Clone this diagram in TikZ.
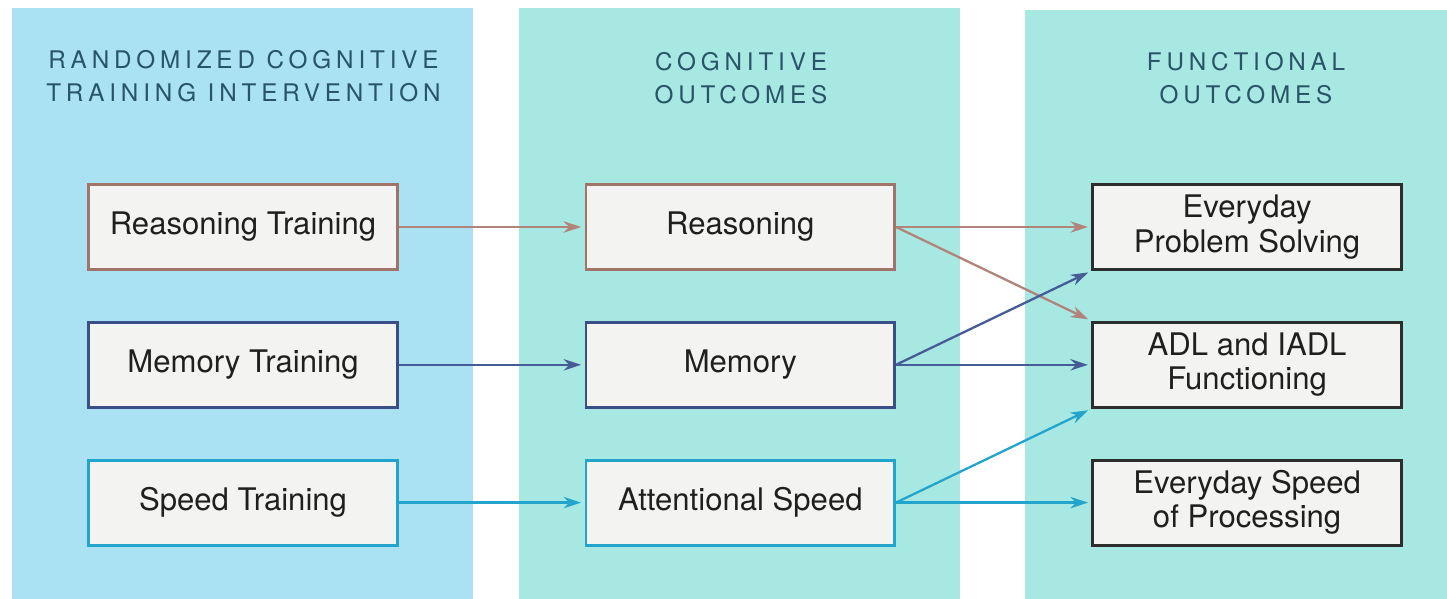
\documentclass[tikz,border=0pt]{standalone}
\usepackage{fontspec}
\setmainfont{TeX Gyre Heros}
\newfontfamily\headfont[LetterSpace=20]{TeX Gyre Heros}
\usetikzlibrary{arrows.meta, positioning}

\definecolor{trainpanel}{RGB}{170,226,243}
\definecolor{outcomepanel}{RGB}{168,232,226}
\definecolor{boxfill}{RGB}{243,243,241}
\definecolor{headtext}{RGB}{40,84,104}
\definecolor{reasoncol}{RGB}{160,116,106}
\definecolor{reasonarrow}{RGB}{176,132,122}
\definecolor{memorycol}{RGB}{58,78,136}
\definecolor{memoryarrow}{RGB}{70,92,150}
\definecolor{speedcol}{RGB}{34,164,204}
\definecolor{funccol}{RGB}{45,45,45}

\begin{document}
\begin{tikzpicture}[
        panel/.style={
            fill=#1
        },
        heading/.style={
            font=\headfont\fontsize{13.8}{18.7}\selectfont,
            text=headtext,
            align=center
        },
        measure/.style={
            draw=#1,
            fill=boxfill,
            line width=1.6pt,
            minimum width=6.17cm,
            minimum height=1.7cm,
            inner sep=0pt,
            align=center,
            text=black!88,
            font=\fontsize{17.7}{19.5}\selectfont
        },
        link/.style={
            -{Stealth[length=10pt,width=6.5pt]},
            line width=1.3pt,
            shorten >=2pt,
            #1
        },
        node distance=1.0cm
    ]

        \useasboundingbox (0,0) rectangle (28.94,11.98);

        % ---------------------------------------------------------------------
        % Coloured column panels
        % ---------------------------------------------------------------------

        \fill[panel=trainpanel] (0.24,0) rectangle (9.46,11.82);
        \fill[panel=outcomepanel] (10.38,0) rectangle (19.20,11.82);
        \fill[panel=outcomepanel] (20.50,0) rectangle (28.94,11.78);

        \node[heading] (trainhead) at (4.87,10.45) {
            RANDOMIZED COGNITIVE\\
            TRAINING INTERVENTION
        };

        \node[heading] (coghead) at (14.82,10.42) {
            COGNITIVE\\
            OUTCOMES
        };

        \node[heading] (funchead) at (24.92,10.42) {
            FUNCTIONAL\\
            OUTCOMES
        };

        % ---------------------------------------------------------------------
        % Training arms
        % ---------------------------------------------------------------------

        \node[measure=reasoncol] (reasontrain) at (4.86,7.44) {Reasoning Training};

        \node[
            measure=memorycol,
            below=of reasontrain
        ] (memorytrain) {Memory Training};

        \node[
            measure=speedcol,
            below=of memorytrain
        ] (speedtrain) {Speed Training};

        % ---------------------------------------------------------------------
        % Cognitive outcomes
        % ---------------------------------------------------------------------

        \node[
            measure=reasoncol,
            right=3.72cm of reasontrain
        ] (reasoning) {Reasoning};

        \node[
            measure=memorycol,
            right=3.72cm of memorytrain
        ] (memory) {Memory};

        \node[
            measure=speedcol,
            right=3.72cm of speedtrain
        ] (attention) {Attentional Speed};

        % ---------------------------------------------------------------------
        % Functional outcomes
        % ---------------------------------------------------------------------

        \node[
            measure=funccol,
            right=3.91cm of reasoning
        ] (solving) {Everyday\\Problem Solving};

        \node[
            measure=funccol,
            right=3.91cm of memory
        ] (adl) {ADL and IADL\\Functioning};

        \node[
            measure=funccol,
            right=3.91cm of attention
        ] (procspeed) {Everyday Speed\\of Processing};

        % ---------------------------------------------------------------------
        % Effects
        % ---------------------------------------------------------------------

        \draw[link=reasonarrow] (reasontrain) -- (reasoning);
        \draw[link=memoryarrow] (memorytrain) -- (memory);
        \draw[link=speedcol] (speedtrain) -- (attention);

        \draw[link=reasonarrow] (reasoning.east) -- (solving.west);
        \draw[link=reasonarrow] (reasoning.east) -- (adl.north west);

        \draw[link=memoryarrow] (memory.east) -- (solving.south west);
        \draw[link=memoryarrow] (memory.east) -- (adl.west);

        \draw[link=speedcol] (attention.east) -- (adl.south west);
        \draw[link=speedcol] (attention.east) -- (procspeed.west);

    \end{tikzpicture}
\end{document}
